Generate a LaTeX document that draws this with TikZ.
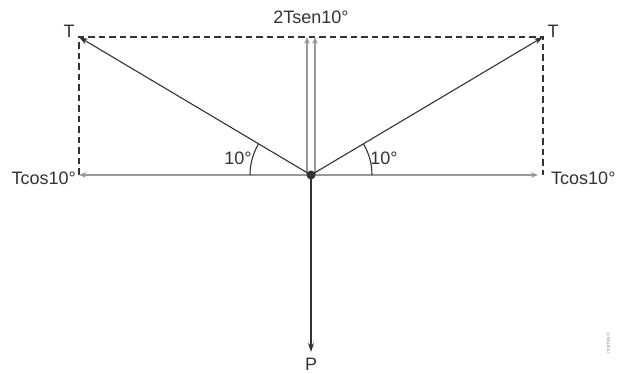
\documentclass[tikz,border=0pt]{standalone}
\usepackage{fontspec}
\setmainfont{Liberation Sans}
\usetikzlibrary{arrows.meta}
\definecolor{ink}{HTML}{333333}
\definecolor{lgray}{HTML}{999999}
\tikzset{
  lbl/.style={text=ink, font=\fontsize{18}{18}\selectfont, inner sep=0pt},
  tvec/.style={draw=ink, line width=1.1pt, -{Stealth[length=9pt,width=6pt]}},
  gvec/.style={draw=lgray, line width=1.6pt, -{Stealth[length=7pt,width=5.5pt]}},
  pvec/.style={draw=ink, line width=1.6pt, -{Stealth[length=9pt,width=6pt]}},
  dsh/.style={draw=ink, line width=1.9pt, dash pattern=on 6.5pt off 4pt},
  arcl/.style={draw=ink, line width=1.1pt}
}
\begin{document}
\begin{tikzpicture}[x=1pt,y=-1pt]
\useasboundingbox[fill=white] (0,0) rectangle (618,374);
\coordinate (O) at (311,175);
\coordinate (TL) at (79,37);
\coordinate (TR) at (543,37);
\coordinate (HL) at (79,175);
\coordinate (HR) at (543,175);
\coordinate (HRtip) at (538,175);
\coordinate (V1b) at (307,175);
\coordinate (V1t) at (307,37);
\coordinate (V2b) at (315,175);
\coordinate (V2t) at (315,37);
\coordinate (Pe) at (311,352);
% dashed box
\draw[dsh] (HL) -- (TL) -- (TR) -- (HR);
% gray components
\draw[gvec] (O) -- (HL);
\draw[gvec] (O) -- (HRtip);
\draw[gvec] (V1b) -- (V1t);
\draw[gvec] (V2b) -- (V2t);
% tension vectors
\draw[tvec] (O) -- (TL);
\draw[tvec] (O) -- (TR);
% weight
\draw[pvec] (O) -- (Pe);
% angle arcs
\draw[arcl] (250,175) arc[start angle=180, end angle=210.7, radius=61];
\draw[arcl] (372,175) arc[start angle=0, end angle=-30.7, radius=61];
\fill[ink] (O) circle (4.5);
% labels
\node[lbl] (tl) at (69,31) {T};
\node[lbl] (tr) at (553,31) {T};
\node[lbl] (top) at (311,17) {2Tsen10°};
\node[lbl, anchor=east] (cl) at (76,178) {Tcos10°};
\node[lbl, anchor=west] (cr) at (551,178) {Tcos10°};
\node[lbl] (al) at (238,158) {10°};
\node[lbl] (ar) at (384,158) {10°};
\node[lbl, anchor=south] (p) at (311,370.5) {P};
\node[text=lgray, font=\fontsize{5}{5}\selectfont, rotate=90, inner sep=0pt] (wm) at (608,343) {nterbits®};
\end{tikzpicture}
\end{document}
